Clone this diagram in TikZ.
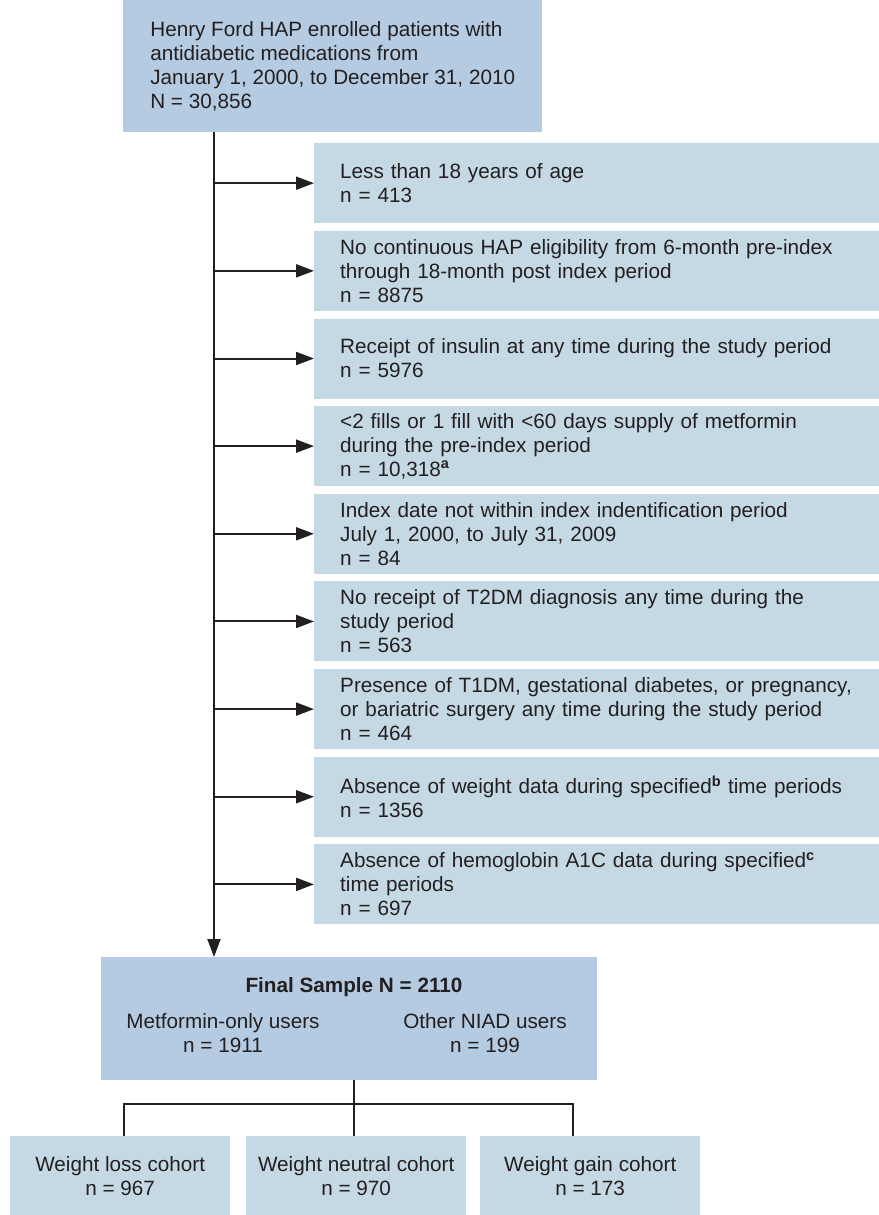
\documentclass[tikz,border=0pt]{standalone}
\usepackage{fontspec}
\setmainfont{Liberation Sans}
\usetikzlibrary{arrows.meta, positioning}
\definecolor{headblue}{RGB}{180,203,226}
\definecolor{exblue}{RGB}{197,217,228}
\definecolor{ink}{RGB}{35,31,32}

\begin{document}
\begin{tikzpicture}[
    x=1pt, y=-1pt,
    every node/.style={font=\fontsize{20.7}{24}\selectfont, text=ink},
    head/.style={fill=headblue, anchor=north west, inner ysep=2pt},
    excl/.style={fill=exblue, anchor=north west, minimum width=564pt, minimum height=80pt, text width=540pt, inner xsep=26pt, inner ysep=2pt, align=left},
    cohort/.style={fill=exblue, anchor=north west, minimum width=220pt, minimum height=79pt, inner sep=2pt, align=center},
    arr/.style={-{Triangle[length=18pt, width=13pt]}, line width=2pt, draw=ink},
    conn/.style={line width=2pt, draw=ink}
]
\useasboundingbox (0,0) rectangle (878,1215);

% source population
\node[head, minimum width=419pt, minimum height=132pt, inner xsep=24pt, align=left] (enrol) at (123,0)
    {Henry Ford HAP enrolled patients with\\antidiabetic medications from\\January 1, 2000, to December 31, 2010\\N = 30,856};

% exclusions
\node[excl] (age) at (314,143) {Less than 18 years of age\\n = 413};
\node[excl, below=7.25pt of age] (elig) {No continuous HAP eligibility from 6-month pre-index\\through 18-month post index period\\n = 8875};
\node[excl, below=7.25pt of elig] (insul) {Receipt of insulin at any time during the study period\\n = 5976};
\node[excl, below=7.25pt of insul] (fills) {<2 fills or 1 fill with <60 days supply of metformin\\during the pre-index period\\n = 10,318\textsuperscript{\textbf{a}}};
\node[excl, below=7.25pt of fills] (idx) {Index date not within index indentification period\\July 1, 2000, to July 31, 2009\\n = 84};
\node[excl, below=7.25pt of idx] (tdm) {No receipt of T2DM diagnosis any time during the\\study period\\n = 563};
\node[excl, below=7.25pt of tdm] (preg) {Presence of T1DM, gestational diabetes, or pregnancy,\\or bariatric surgery any time during the study period\\n = 464};
\node[excl, below=7.25pt of preg] (wgt) {Absence of weight data during specified\textsuperscript{\textbf{b}} time periods\\n = 1356};
\node[excl, below=7.25pt of wgt] (hba) {Absence of hemoglobin A1C data during specified\textsuperscript{\textbf{c}}\\time periods\\n = 697};

% final sample
\node[head, minimum width=496pt, minimum height=123pt] (final) at (101,957) {};
\node (fintitle) at (354,987) {\textbf{Final Sample N = 2110}};
\node[align=center] (metf) at (223,1033) {Metformin-only users\\n = 1911};
\node[align=center] (niad) at (485,1033) {Other NIAD users\\n = 199};

% cohorts
\node[cohort] (loss) at (10,1136) {Weight loss cohort\\n = 967};
\node[cohort] (neut) at (246,1136) {Weight neutral cohort\\n = 970};
\node[cohort] (gain) at (480,1136) {Weight gain cohort\\n = 173};

% connectors
\coordinate (trunk) at (214,0);
\coordinate (split) at (354,1104);
\draw[arr] (enrol.south -| trunk) -- (final.north -| trunk);
\foreach \ex in {age, elig, insul, fills, idx, tdm, preg, wgt, hba}
    \draw[arr] (\ex.west -| trunk) -- (\ex.west);
\draw[conn] (final.south -| split) -- (neut.north -| split);
\draw[conn] ([xshift=4pt]loss.north) |- (split) -| ([xshift=-17pt]gain.north);
\end{tikzpicture}
\end{document}
